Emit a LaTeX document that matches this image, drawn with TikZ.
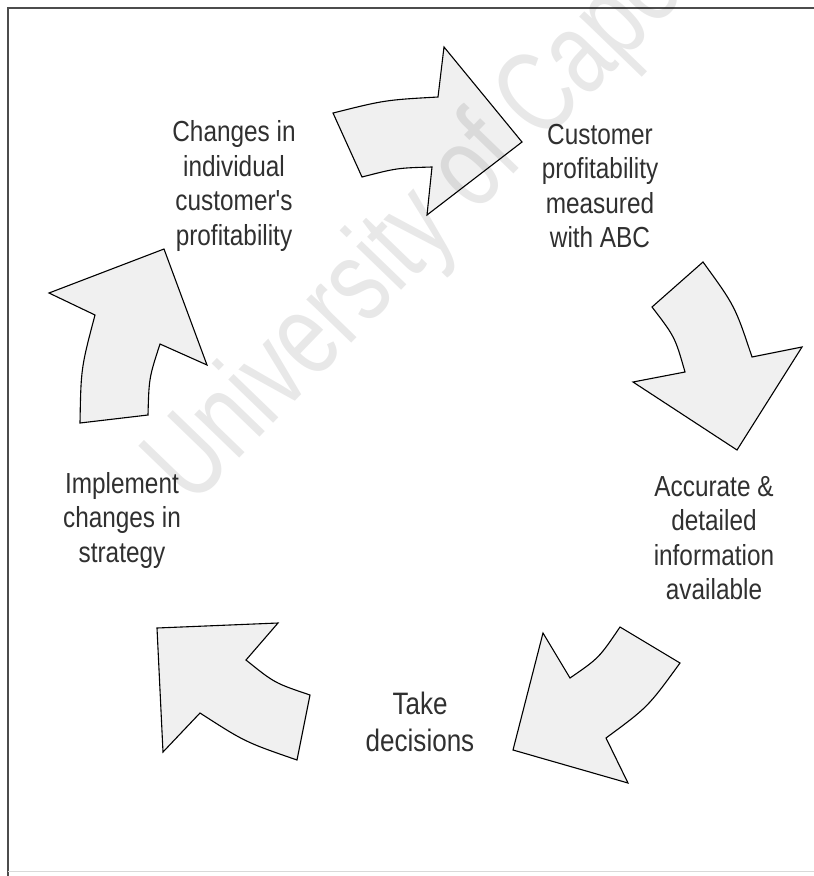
\documentclass[tikz,border=0pt]{standalone}
\usepackage{fontspec}
\setmainfont{Liberation Sans}
\newfontfamily\labfont[FakeStretch=0.84]{Liberation Sans}
\newfontfamily\wmfont[FakeStretch=0.74]{Liberation Sans}
\definecolor{arrowfill}{HTML}{F0F0F0}
\definecolor{labtext}{HTML}{303030}
\begin{document}
\begin{tikzpicture}[x=1pt,y=-1pt,
  cyclearrow/.style={draw=black,fill=arrowfill,line width=1.1pt,line join=miter},
  lab/.style={align=center,inner sep=0pt,text=labtext,font=\labfont\fontsize{29}{34.5}\selectfont},
  labbig/.style={align=center,inner sep=0pt,text=labtext,font=\labfont\fontsize{31}{37.5}\selectfont}]
\useasboundingbox (0,0) rectangle (814,876);
\fill[white] (0,0) rectangle (814,876);
% frame
\draw[line width=1.6pt,draw=black!70] (8,876) -- (8,8) -- (814,8);
\draw[line width=0.8pt,draw=black!15] (8,871) -- (814,871);
% arrows
\draw[cyclearrow] (333,113) .. controls (385,100) .. (438,97) -- (444,47) -- (522,142)
  -- (427,215) -- (432,167) .. controls (397,168) .. (362,177) -- cycle;
\draw[cyclearrow] (703,262) -- (652,307) .. controls (675,337) .. (685,372) -- (633,382)
  -- (737,450) -- (802,347) -- (752,357) .. controls (735,306) .. cycle;
\draw[cyclearrow] (164,249) -- (207,365) -- (160,344) .. controls (149,378) .. (148,415)
  -- (80,423) .. controls (81,368) .. (95,315) -- (49,293) -- cycle;
\draw[cyclearrow] (157,628) -- (278,623) -- (246,660) .. controls (274.5,683) .. (310,695)
  -- (297,760) .. controls (245,742) .. (200,713) -- (163,752) -- cycle;
\draw[cyclearrow] (543,633) -- (570,678) .. controls (599,658) .. (620,627) -- (680,663)
  .. controls (648,707) .. (606,738) -- (628,783) -- (513,750) -- cycle;
% labels
\node[lab] (changes) at (234,186) {Changes in\\individual\\customer's\\profitability};
\node[lab] (measured) at (600,186) {Customer\\profitability\\measured\\with ABC};
\node[lab] (info) at (714,538) {Accurate \&\\detailed\\information\\available};
\node[labbig] (decide) at (420,722) {Take\\decisions};
\node[lab] (implement) at (122,520) {Implement\\changes in\\strategy};
% watermark
\begin{scope}
\clip (0,0) rectangle (814,876);
\node[anchor=base west,rotate=46,text=black,opacity=0.09,inner sep=0pt,
  font=\wmfont\fontsize{118}{118}\selectfont] (wm) at (192,508) {University of Cape};
\end{scope}
\end{tikzpicture}
\end{document}
